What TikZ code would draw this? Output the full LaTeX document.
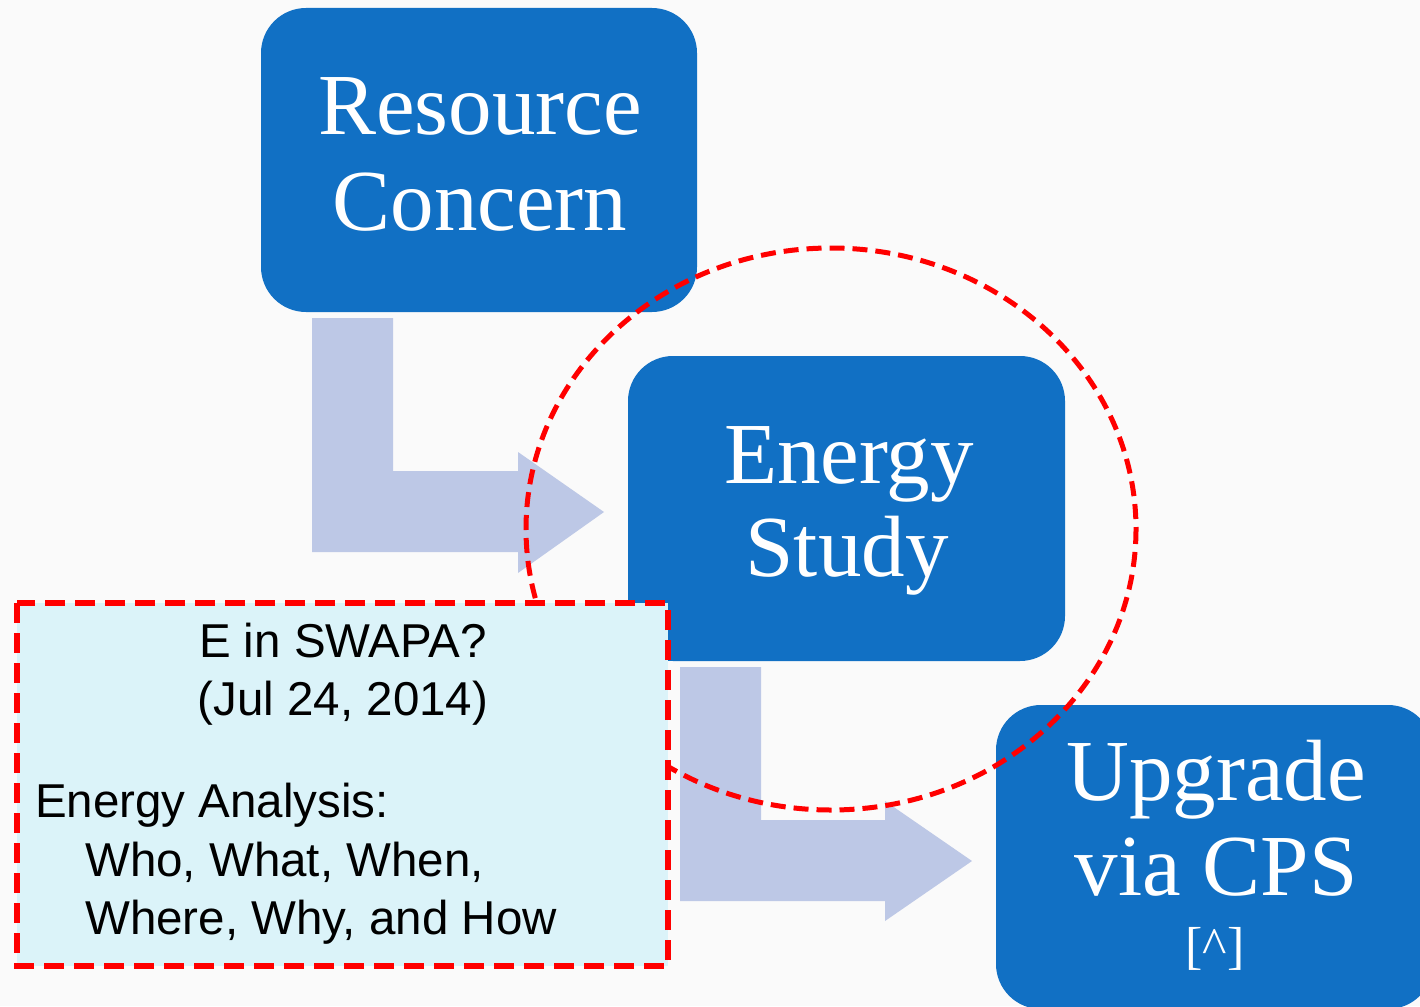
\documentclass[tikz,border=0pt]{standalone}
\usepackage{fontspec}
\setmainfont{Liberation Serif}
\newfontfamily\arialfont{Liberation Sans}
\definecolor{bg}{RGB}{250,250,250}
\definecolor{boxblue}{RGB}{17,112,196}
\definecolor{arrowblue}{RGB}{189,200,230}
\definecolor{notefill}{RGB}{219,243,249}
\definecolor{dashred}{RGB}{255,0,0}
\tikzset{
  bluebox/.style={fill=boxblue, draw=none, rounded corners=45pt},
  bigtext/.style={text=white, anchor=base, inner sep=0pt, font=\fontsize{87}{95}\selectfont},
  smalltext/.style={text=white, anchor=base, inner sep=0pt, font=\fontsize{52}{56}\selectfont},
  blockarrow/.style={fill=arrowblue, draw=none},
  notebox/.style={fill=notefill, draw=dashred, line width=6.5pt, dash pattern=on 20pt off 10pt},
  focusring/.style={draw=dashred, line width=5pt, dash pattern=on 15pt off 8pt},
  notetext/.style={anchor=base, inner sep=0pt, text=black, font=\arialfont\fontsize{47.5}{56}\selectfont},
  notetextl/.style={anchor=base west, inner sep=0pt, text=black, font=\arialfont\fontsize{47.5}{56}\selectfont}
}
\begin{document}
\begin{tikzpicture}[x=1pt,y=-1pt]
\useasboundingbox (0,0) rectangle (1420,1006);
\fill[bg] (0,0) rectangle (1420,1006);
% Resource Concern
\path[bluebox] (261,8) rectangle (697,312);
\node[bigtext] (rc1) at (480,135) {Resource};
\node[bigtext] (rc2) at (480,230) {Concern};
% arrow 1
\path[blockarrow] (312,318) -- (393,318) -- (393,471) -- (518,471) -- (518,452) -- (604,512) -- (518,573) -- (518,552) -- (312,552) -- cycle;
% Energy Study
\path[bluebox] (628,356) rectangle (1065,661);
\node[bigtext] (es1) at (849,483) {Energy};
\node[bigtext] (es2) at (847,576) {Study};
% arrow 2
\path[blockarrow] (680,667) -- (761,667) -- (761,820) -- (885,820) -- (885,801) -- (972,861) -- (885,921) -- (885,901) -- (680,901) -- cycle;
% Upgrade via CPS
\path[bluebox] (996,705) rectangle (1433,1009);
\node[bigtext] (up1) at (1216,800) {Upgrade};
\node[bigtext] (up2) at (1216,895) {via CPS};
\node[smalltext] (up3) at (1215,963) {[\^{}]};
% focus ring
\draw[focusring] (831,529) ellipse [x radius=305, y radius=281];
% note box
\path[notebox] (17,603) rectangle (668,966);
\node[notetext] (n1) at (343,657) {E in SWAPA?};
\node[notetext] (n2) at (343,715) {(Jul 24, 2014)};
\node[notetextl] (n3) at (35,817) {Energy Analysis:};
\node[notetextl] (n4) at (85,876) {Who, What, When,};
\node[notetextl] (n5) at (85,934) {Where, Why, and How};
\end{tikzpicture}
\end{document}
